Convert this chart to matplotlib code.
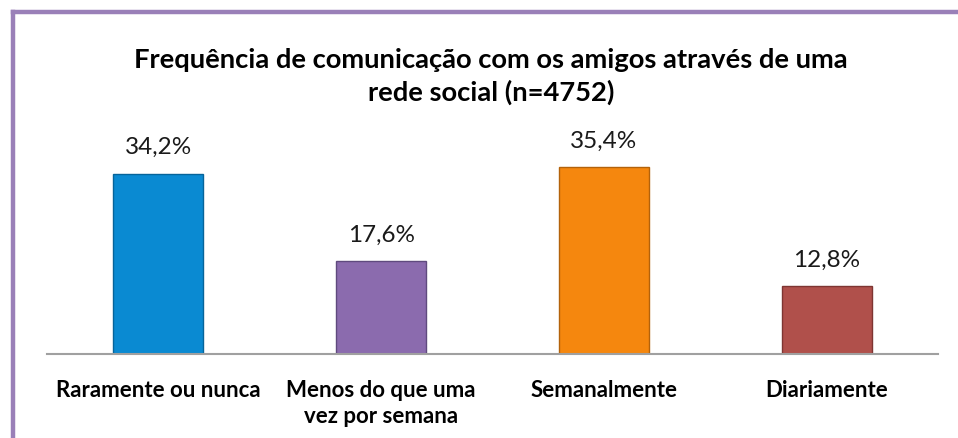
import matplotlib
matplotlib.use('Agg')
import matplotlib.pyplot as plt
from matplotlib.lines import Line2D
import numpy as np

# Data
categories = ['Raramente ou nunca', 'Menos do que uma\nvez por semana',
              'Semanalmente', 'Diariamente']
values = [34.2, 17.6, 35.4, 12.8]
value_labels = ['34,2%', '17,6%', '35,4%', '12,8%']
bar_colors = ['#0A8AD2', '#8B6BAE', '#F5870E', '#B0504B']
edge_colors = ['#06649A', '#5F4A7E', '#B3620A', '#7E3532']
title = 'Frequência de comunicação com os amigos através de uma\nrede social (n=4752)'

plt.rcParams['font.family'] = ['Lato', 'DejaVu Sans']

fig = plt.figure(figsize=(9.58, 4.39), dpi=100)
fig.patch.set_facecolor('white')

# purple frame (only top and left edges visible in the crop)
fx, fy = 13 / 958, 1 - 12.5 / 439
fig.add_artist(Line2D([fx, 1.05], [fy, fy], transform=fig.transFigure,
                      color='#9A80B8', linewidth=3.2, solid_capstyle='projecting'))
fig.add_artist(Line2D([fx, fx], [fy, -0.05], transform=fig.transFigure,
                      color='#9A80B8', linewidth=3.2, solid_capstyle='projecting'))

ax = fig.add_axes([47 / 958, (439 - 355) / 439, 891 / 958, 211 / 439])
x = np.arange(len(categories))
bars = ax.bar(x, values, width=0.405, color=bar_colors,
              edgecolor=edge_colors, linewidth=1.0)

for b, lab in zip(bars, value_labels):
    ax.annotate(lab, (b.get_x() + b.get_width() / 2, b.get_height()),
                xytext=(0, 12), textcoords='offset points',
                ha='center', va='bottom', fontsize=17.5, color='#1a1a1a')

ax.set_xlim(-0.5, len(categories) - 0.5)
ax.set_ylim(0, 40)
ax.set_xticks(x)
ax.set_xticklabels(categories, fontsize=16, fontweight='bold',
                   linespacing=1.3, va='top')
ax.tick_params(axis='x', length=0, pad=18)
ax.set_yticks([])
for s in ['top', 'right', 'left']:
    ax.spines[s].set_visible(False)
ax.spines['bottom'].set_color('#A0A0A0')
ax.spines['bottom'].set_linewidth(1.5)

fig.text(491 / 958, 1 - 48 / 439, title, ha='center', va='top',
         fontsize=19.7, fontweight='bold', linespacing=1.35)

fig.savefig('out.png', dpi=100)
